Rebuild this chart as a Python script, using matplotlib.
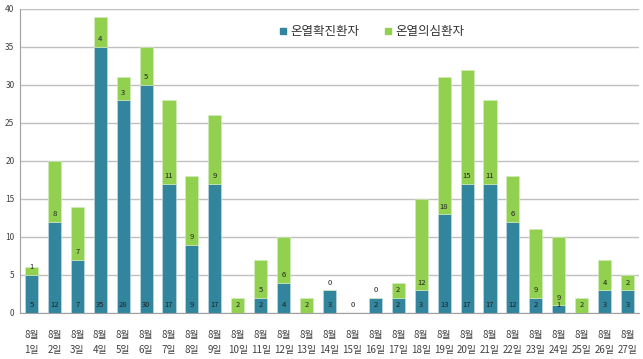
import matplotlib
matplotlib.use("Agg")
import matplotlib.pyplot as plt
from matplotlib.lines import Line2D
import numpy as np

plt.rcParams['font.family'] = ['Noto Sans CJK KR', 'DejaVu Sans']

days = [f"8월\n{d}일" for d in range(1, 28)]
confirmed = [5, 12, 7, 35, 28, 30, 17, 9, 17, 0, 2, 4, 0, 3, 0, 2, 2, 3, 13, 17, 17, 12, 2, 1, 0, 3, 3]
suspected = [1, 8, 7, 4, 3, 5, 11, 9, 9, 2, 5, 6, 2, 0, 0, 0, 2, 12, 18, 15, 11, 6, 9, 9, 2, 4, 2]

c_conf = '#31859c'
c_susp = '#92d050'

fig = plt.figure(figsize=(6.43, 3.59), dpi=100)
ax = fig.add_axes([20 / 643, 1 - 313 / 359, 619 / 643, 304 / 359])

x = np.arange(len(days))
w = 0.57
ax.bar(x, confirmed, w, color=c_conf, edgecolor='#c8dfe6', linewidth=0.4, zorder=3)
ax.bar(x, suspected, w, bottom=confirmed, color=c_susp, edgecolor='#d6ecc0', linewidth=0.4, zorder=3)

for i in x:
    if confirmed[i] > 0:
        ax.text(i, 1.0, str(confirmed[i]), ha='center', va='center', fontsize=5.5, color='#222222', zorder=4)
    ax.text(i, confirmed[i] + 1.0, str(suspected[i]), ha='center', va='center', fontsize=5.5, color='#222222', zorder=4)

ax.set_xlim(-0.5, len(days) - 0.5)
ax.set_ylim(0, 40)
ax.set_yticks(range(0, 41, 5))
ax.yaxis.grid(True, color='#c0c0c0', linewidth=1.0, zorder=0)
ax.set_axisbelow(True)
ax.set_xticks(x)
ax.set_xticklabels(days, fontsize=7, color='#404040', linespacing=1.7)
ax.tick_params(axis='y', labelsize=6, colors='#404040', length=0, pad=4)
ax.tick_params(axis='x', length=0, pad=12)
for s in ['top', 'right']:
    ax.spines[s].set_visible(False)
ax.spines['left'].set_color('#a0a0a0')
ax.spines['bottom'].set_color('#a0a0a0')

handles = [Line2D([], [], marker='s', linestyle='none', markersize=5, color=c_conf),
           Line2D([], [], marker='s', linestyle='none', markersize=5, color=c_susp)]
fig.legend(handles, ['온열확진환자', '온열의심환자'], loc='center', bbox_to_anchor=(0.578, 0.912),
           ncol=2, frameon=False, fontsize=9, handlelength=0.6, handletextpad=0.3, columnspacing=2.0,
           labelcolor='#333333')

fig.savefig('out.png', dpi=100)
